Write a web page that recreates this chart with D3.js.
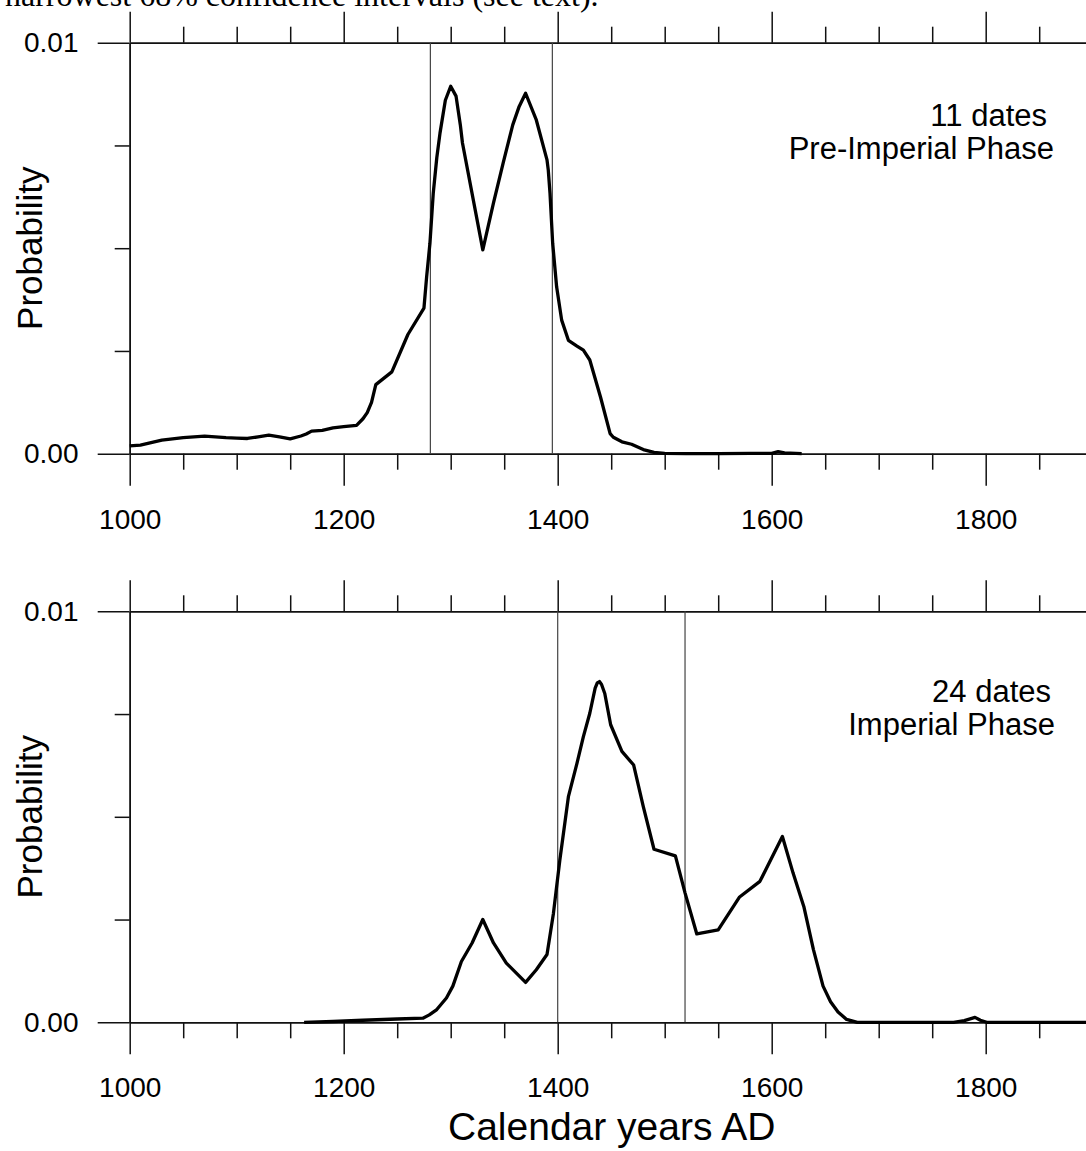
<!DOCTYPE html>
<html>
<head>
<meta charset="utf-8">
<script src="https://cdn.jsdelivr.net/npm/d3@7"></script>
<style>
  body { margin: 0; background: #fff; }
  svg { display: block; }
</style>
</head>
<body>
<div id="container"></div>
<script>
const WIDTH = 1086;
const HEIGHT = 1151;
const FONT = "'Liberation Sans', Arial, Helvetica, sans-serif";

// Pre-Imperial phase, summed probability (11 dates)
const preYears = [1000, 1010, 1020, 1030, 1040, 1050, 1060, 1070, 1080, 1090, 1100, 1110, 1120, 1130, 1140, 1150,
  1160, 1165, 1170, 1180, 1190, 1200, 1212, 1218, 1222, 1226, 1230, 1245, 1260, 1275, 1277.5, 1280.6, 1283.7,
  1287, 1290, 1295, 1300, 1305, 1309, 1311, 1330, 1340, 1349, 1358, 1364, 1370, 1380, 1390, 1391.2, 1392.8,
  1395.3, 1399, 1403.7, 1410, 1418, 1424, 1430, 1440, 1449, 1452, 1460, 1469, 1480, 1490, 1500, 1520, 1550,
  1580, 1600, 1606, 1612, 1628];
const preProb = [0.00019, 0.00021, 0.00027, 0.00033, 0.00036, 0.00039, 0.00041, 0.00043, 0.00041, 0.00039, 0.00038,
  0.00037, 0.00041, 0.00045, 0.00041, 0.00036, 0.00043, 0.00048, 0.00055, 0.00057, 0.00063, 0.00066, 0.00069,
  0.00085, 0.00100, 0.00125, 0.00168, 0.00199, 0.00290, 0.00354, 0.00430, 0.00512, 0.00634, 0.00720, 0.00780,
  0.00860, 0.00894, 0.00870, 0.00800, 0.00756, 0.00496, 0.00610, 0.00707, 0.00800, 0.00845, 0.00877, 0.00812,
  0.00715, 0.00690, 0.00634, 0.00512, 0.00406, 0.00325, 0.00276, 0.00262, 0.00252, 0.00228, 0.00138, 0.00049,
  0.00040, 0.00029, 0.00023, 0.00010, 0.00003, 0.00001, 0, 0, 0.00001, 0.00001, 0.00005, 0.00002, 0];

// Imperial phase, summed probability (24 dates)
const impYears = [1163, 1190, 1218, 1250, 1274, 1280, 1287, 1296, 1302, 1310, 1320, 1330, 1340, 1352, 1370, 1380,
  1390, 1396, 1402, 1410, 1418, 1424, 1430, 1435, 1437, 1439, 1441, 1444, 1449.5, 1460, 1471, 1480, 1490, 1510,
  1519, 1530, 1550, 1570, 1589, 1610, 1620, 1630, 1639, 1648, 1655, 1662, 1670, 1680, 1700, 1770, 1780, 1790,
  1795, 1801, 1900];
const impProb = [0, 0.00002, 0.00005, 0.00008, 0.00010, 0.00018, 0.00031, 0.00059, 0.00088, 0.00148, 0.00193,
  0.00250, 0.00193, 0.00144, 0.00097, 0.00128, 0.00165, 0.00265, 0.00395, 0.00549, 0.00630, 0.00695, 0.00752,
  0.00813, 0.00826, 0.00829, 0.00822, 0.00800, 0.00724, 0.00659, 0.00626, 0.00525, 0.00421, 0.00405, 0.00315,
  0.00215, 0.00225, 0.00305, 0.00343, 0.00452, 0.00363, 0.00282, 0.00177, 0.00088, 0.00050, 0.00025, 0.00007,
  0, 0, 0, 0.00004, 0.00012, 0.00005, 0, 0];

// 68% interval bounds
const preInterval = [1281, 1395];
const impInterval = [1400, 1519];

const majorYears = [1000, 1200, 1400, 1600, 1800];
const minorYears = d3.range(1000, 1901, 50).filter(y => majorYears.indexOf(y) < 0);
const yMajor = [0, 0.01];
const yMinor = [0.0025, 0.005, 0.0075];

const panels = [
  {years: preYears, prob: preProb, interval: preInterval, top: 42.7, count: "11 dates", phase: "Pre-Imperial Phase",
   countPos: [1047, 125.5], phasePos: [1054, 158.5]},
  {years: impYears, prob: impProb, interval: impInterval, top: 611.3, count: "24 dates", phase: "Imperial Phase",
   countPos: [1051, 701.5], phasePos: [1055, 734.5]}
];

var translate = function (x, y) {
  return "translate(" + x + "," + y + ")";
};

var createChart = function () {
  var svg = d3.select("#container").append("svg")
    .attr("width", WIDTH)
    .attr("height", HEIGHT)
    .style("font-family", FONT);

  svg.append("rect").attr("width", WIDTH).attr("height", HEIGHT).attr("fill", "#fff");

  // caption line cut off at the top of the picture
  svg.append("text")
    .attr("x", 5).attr("y", 6)
    .style("font-family", "'Liberation Serif', 'Times New Roman', serif")
    .style("font-size", "32px")
    .text("narrowest 68% confidence intervals (see text).");

  var xScale = d3.scaleLinear().domain([1000, 1900]).range([129.7, 1092.7]);

  panels.forEach(function (p) {
    var height = 411;
    var yScale = d3.scaleLinear().domain([0, 0.01]).range([p.top + height, p.top]);
    var g = svg.append("g");

    // top axis
    g.append("g").attr("transform", translate(0, p.top))
      .call(d3.axisTop(xScale).tickValues(minorYears).tickSize(16).tickSizeOuter(0).tickFormat(""));
    g.append("g").attr("transform", translate(0, p.top))
      .call(d3.axisTop(xScale).tickValues(majorYears).tickSize(31).tickSizeOuter(0).tickFormat(""));

    // bottom axis
    g.append("g").attr("transform", translate(0, yScale(0)))
      .call(d3.axisBottom(xScale).tickValues(minorYears).tickSize(16).tickSizeOuter(0).tickFormat(""));
    var bottom = g.append("g").attr("transform", translate(0, yScale(0)))
      .call(d3.axisBottom(xScale).tickValues(majorYears).tickSize(32).tickSizeOuter(0)
        .tickPadding(23).tickFormat(d3.format("d")));
    bottom.selectAll("text").style("font-size", "28px").style("font-family", FONT).attr("fill", "#000");

    // left axis
    g.append("g").attr("transform", translate(129.7, 0))
      .call(d3.axisLeft(yScale).tickValues(yMinor).tickSize(15).tickSizeOuter(0).tickFormat(""));
    var left = g.append("g").attr("transform", translate(129.7, 0))
      .call(d3.axisLeft(yScale).tickValues(yMajor).tickSize(32).tickSizeOuter(0).tickFormat(d3.format(".2f")));
    left.selectAll("text")
      .attr("text-anchor", "start")
      .attr("x", 24 - 129.7)
      .style("font-size", "28px").style("font-family", FONT).attr("fill", "#000");

    g.selectAll(".domain, .tick line").attr("stroke", "#111").attr("stroke-width", 1.5);

    // interval lines
    g.selectAll(".interval").data(p.interval).enter().append("line")
      .attr("x1", d => xScale(d)).attr("x2", d => xScale(d))
      .attr("y1", yScale(0.01)).attr("y2", yScale(0))
      .attr("stroke", "#444").attr("stroke-width", 1.2);

    var line = d3.line()
      .x(function (d, i) { return xScale(p.years[i]); })
      .y(function (d) { return yScale(d); })
      .curve(d3.curveLinear);

    g.append("path")
      .attr("d", line(p.prob))
      .attr("fill", "none")
      .attr("stroke", "#000")
      .attr("stroke-width", 3.3)
      .attr("stroke-linejoin", "round");

    g.append("text")
      .attr("transform", translate(41.7, p.top + height / 2) + " rotate(-90)")
      .attr("text-anchor", "middle")
      .style("font-size", "35px")
      .text("Probability");

    g.append("text").attr("x", p.countPos[0]).attr("y", p.countPos[1])
      .attr("text-anchor", "end").style("font-size", "31px").text(p.count);
    g.append("text").attr("x", p.phasePos[0]).attr("y", p.phasePos[1])
      .attr("text-anchor", "end").style("font-size", "31px").text(p.phase);
  });

  svg.append("text")
    .attr("x", 611.7).attr("y", 1140)
    .attr("text-anchor", "middle")
    .style("font-size", "39px")
    .text("Calendar years AD");
};

window.onload = createChart;
</script>
</body>
</html>
